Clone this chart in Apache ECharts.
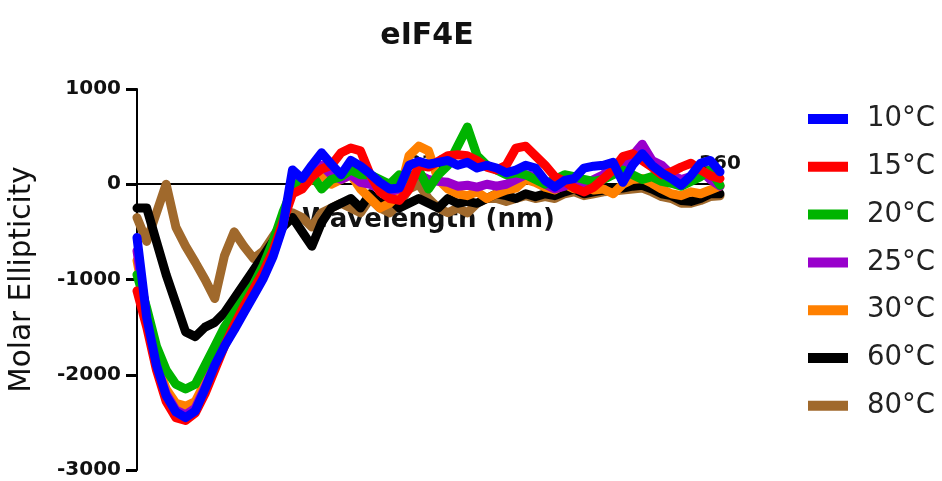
<!DOCTYPE html>
<html>
<head>
<meta charset="utf-8">
<script src="https://cdn.jsdelivr.net/npm/echarts@6/dist/echarts.min.js"></script>
<style>html,body{margin:0;padding:0;background:#fff}#c{width:942px;height:481px}</style>
</head>
<body>
<div id="c"></div>
<script>
var wavelengths = [];
for (var w = 200; w <= 260; w++) wavelengths.push(w);

var seriesNames = ['10°C', '15°C', '20°C', '25°C', '30°C', '60°C', '80°C'];
var seriesColors = ['#0000ff', '#ff0000', '#00b400', '#9900cc', '#ff8000', '#000000', '#a0692c'];

var t10 = [-560,-1400,-1900,-2220,-2390,-2450,-2380,-2150,-1900,-1700,-1530,-1350,-1170,-990,-760,-450,
  150,60,200,330,210,100,250,190,110,20,-50,-40,200,240,210,230,250,200,230,170,200,170,120,150,
  200,170,40,-30,40,60,170,190,200,230,20,200,320,200,120,60,-10,90,220,250,130];
var t15 = [-1120,-1500,-1950,-2280,-2450,-2480,-2400,-2200,-1950,-1700,-1480,-1280,-1100,-920,-700,-400,
  -100,-50,80,160,200,330,380,350,100,-80,-150,-170,-50,200,180,240,300,310,300,250,180,150,200,380,
  400,300,200,80,30,-40,-80,-30,60,150,290,320,250,180,100,130,180,220,150,90,60];
var t20 = [-950,-1300,-1700,-1950,-2100,-2150,-2100,-1900,-1700,-1500,-1350,-1200,-1050,-850,-600,-300,
  -50,50,100,-50,50,80,150,100,100,50,0,100,50,150,-50,100,200,400,600,300,200,150,100,120,
  100,50,0,50,100,80,50,30,50,100,150,100,50,80,30,10,-20,30,80,150,-10];
var t25 = [-700,-1400,-1900,-2200,-2370,-2420,-2350,-2130,-1880,-1680,-1510,-1330,-1150,-970,-740,-430,
  50,0,100,200,100,50,100,20,0,-50,-80,-50,50,100,50,30,20,-20,-10,-30,0,-20,0,50,
  100,80,0,-50,-20,20,0,50,100,200,150,300,420,250,200,100,50,80,150,50,-20];
var t30 = [-800,-1350,-1850,-2150,-2300,-2330,-2280,-2080,-1850,-1650,-1480,-1300,-1120,-940,-700,-400,
  -50,-20,50,100,0,50,100,-50,-150,-250,-200,-100,300,400,350,50,-50,-100,-120,-80,-150,-100,-60,-40,
  50,20,-30,-60,0,-50,-20,-60,-50,-100,0,50,60,10,-50,-100,-120,-80,-100,-60,-20];
var t60 = [-250,-250,-600,-950,-1250,-1550,-1600,-1500,-1450,-1350,-1200,-1050,-900,-750,-600,-450,
  -350,-500,-650,-400,-250,-200,-150,-250,-100,-200,-150,-250,-200,-150,-200,-250,-150,-200,-180,-200,-150,-100,-120,-150,
  -100,-130,-100,-120,-80,-50,-100,-80,-60,-50,-40,-20,-10,-50,-100,-120,-170,-180,-150,-100,-100];
var t80 = [-350,-600,-300,0,-450,-650,-820,-1000,-1200,-750,-500,-650,-780,-700,-550,-400,
  -300,-350,-450,-300,-250,-200,-250,-300,-150,-250,-300,-200,-50,0,-150,-250,-300,-250,-300,-200,-150,-150,-180,-150,
  -120,-150,-130,-150,-100,-80,-120,-100,-80,-70,-60,-50,-40,-80,-130,-150,-200,-200,-170,-130,-120];

var yTicks = [-3000, -2000, -1000, 0, 1000];
var xTicks = [230, 260];

var allValues = [t10, t15, t20, t25, t30, t60, t80];
var zOrder = [9, 8, 7, 6, 5, 4, 3];

var series = allValues.map(function (vals, i) {
  return {
    name: seriesNames[i],
    type: 'line',
    showSymbol: false,
    symbol: 'none',
    z: zOrder[i],
    lineStyle: { width: 9, color: seriesColors[i], join: 'round', cap: 'round' },
    itemStyle: { color: seriesColors[i] },
    data: wavelengths.map(function (w, j) { return [w, vals[j]]; })
  };
});

var chart = echarts.init(document.getElementById('c'), null, { renderer: 'canvas' });
chart.setOption({
  backgroundColor: '#ffffff',
  animation: false,
  title: {
    text: 'eIF4E',
    left: 422,
    top: 16,
    textAlign: 'center',
    textStyle: { fontFamily: 'DejaVu Sans', fontWeight: 'bold', fontSize: 30, color: '#111' }
  },
  legend: {
    orient: 'vertical',
    left: 803,
    top: 100,
    itemWidth: 40,
    itemHeight: 10,
    itemGap: 19.8,
    icon: 'rect',
    data: seriesNames.map(function (n, i) { return { name: n, itemStyle: { color: seriesColors[i] } }; }),
    textStyle: { fontFamily: 'DejaVu Sans', fontSize: 27.5, color: '#222', padding: [0, 0, 0, 14] }
  },
  grid: { left: 137, right: 222, top: 89, bottom: 11, containLabel: false, outerBoundsMode: 'none' },
  xAxis: {
    type: 'value',
    min: 200,
    max: 260,
    interval: 30,
    position: 'bottom',
    offset: -286,
    name: 'Wavelength (nm)',
    nameLocation: 'middle',
    nameGap: 23,
    nameTextStyle: { fontFamily: 'DejaVu Sans', fontWeight: 'bold', fontSize: 26, color: '#111' },
    axisLine: { onZero: false, lineStyle: { color: '#000', width: 2 } },
    axisTick: { show: false },
    axisLabel: {
      inside: true, margin: 10,
      fontFamily: 'DejaVu Sans', fontWeight: 'bold', fontSize: 20, color: '#111',
      formatter: function (v) { return xTicks.indexOf(v) >= 0 ? String(v) : ''; }
    },
    splitLine: { show: false }
  },
  yAxis: {
    type: 'value',
    min: -3000,
    max: 1000,
    interval: 1000,
    name: 'Molar Ellipticity',
    nameLocation: 'middle',
    nameGap: 100,
    nameTextStyle: { fontFamily: 'DejaVu Sans', fontSize: 29.5, color: '#111' },
    axisLine: { show: true, onZero: false, lineStyle: { color: '#000', width: 2 } },
    axisTick: { show: true, inside: false, length: 11, lineStyle: { color: '#000', width: 3 } },
    axisLabel: {
      margin: 16,
      fontFamily: 'DejaVu Sans', fontWeight: 'bold', fontSize: 20, color: '#111',
      formatter: function (v) { return yTicks.indexOf(v) >= 0 ? String(v) : ''; }
    },
    splitLine: { show: false }
  },
  series: series
});
</script>
</body>
</html>
